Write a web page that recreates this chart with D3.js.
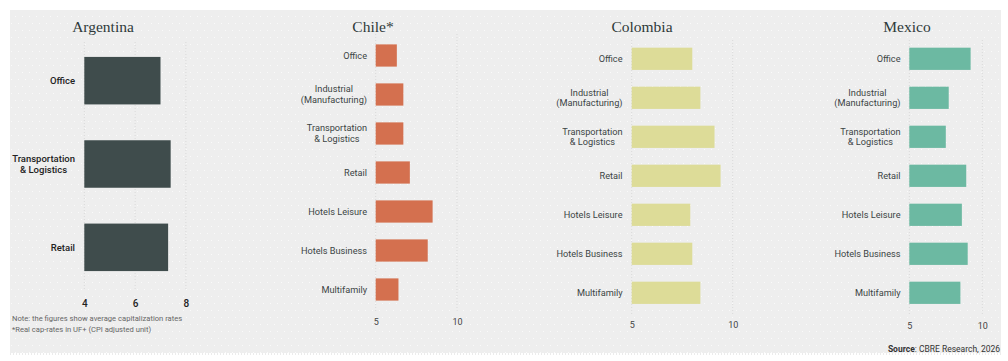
<!DOCTYPE html>
<html>
<head>
<meta charset="utf-8">
<script src="https://cdn.jsdelivr.net/npm/d3@7"></script>
<style>
  html, body { margin: 0; padding: 0; background: #ffffff; }
  svg { display: block; }
</style>
</head>
<body>
<svg id="chart" width="1008" height="361"></svg>
<script>
// ---- Data ----
const argentinaCategories = ["Office", "Transportation\n& Logistics", "Retail"];
const argentinaValues = [7.0, 7.4, 7.3];
const argentinaTicks = [4, 6, 8];

const sectorCategories = ["Office", "Industrial\n(Manufacturing)", "Transportation\n& Logistics", "Retail", "Hotels Leisure", "Hotels Business", "Multifamily"];
const chileValues = [6.3, 6.7, 6.7, 7.1, 8.5, 8.2, 6.4];
const colombiaValues = [8.0, 8.4, 9.1, 9.4, 7.9, 8.0, 8.4];
const mexicoValues = [9.2, 7.7, 7.5, 8.9, 8.6, 9.0, 8.5];
const sectorTicks = [5, 10];

const noteLines = ["Note: the figures show average capitalization rates", "*Real cap-rates in UF+ (CPI adjusted unit)"];

// ---- Layout ----
const svg = d3.select("#chart");
const defs = svg.append("defs");
const pat = defs.append("pattern").attr("id", "dots").attr("patternUnits", "userSpaceOnUse")
  .attr("width", 7).attr("height", 14);
pat.append("rect").attr("width", 7).attr("height", 14).attr("fill", "#eeeeee");
pat.append("rect").attr("x", 1).attr("y", 2).attr("width", 1).attr("height", 1).attr("fill", "#fafafa");
pat.append("rect").attr("x", 4).attr("y", 9).attr("width", 1).attr("height", 1).attr("fill", "#fafafa");

svg.append("rect").attr("x", 10).attr("y", 10).attr("width", 991).attr("height", 343).attr("fill", "url(#dots)");
svg.append("line").attr("x1", 10).attr("x2", 1001).attr("y1", 354).attr("y2", 354)
  .attr("stroke", "#d8d8d8").attr("stroke-dasharray", "1,2");

const panels = [
  { title: "Argentina", titleX: 103, cats: argentinaCategories, vals: argentinaValues, ticks: argentinaTicks,
    domain: [4, 8], xr: [84.3, 185.9], yr: [39, 289], color: "#3f4c4c", tickY: 303, labelRight: 75,
    bold: true, labelSize: 9.5, tickSize: 10, gridTop: 42 },
  { title: "Chile*", titleX: 373, cats: sectorCategories, vals: chileValues, ticks: sectorTicks,
    domain: [5, 10], xr: [375.7, 457], yr: [36, 309], color: "#d4704f", tickY: 322, labelRight: 367,
    bold: false, labelSize: 9.2, tickSize: 9, gridTop: 34 },
  { title: "Colombia", titleX: 642, cats: sectorCategories, vals: colombiaValues, ticks: sectorTicks,
    domain: [5, 10], xr: [631.7, 732.7], yr: [39.3, 312.3], color: "#dddc98", tickY: 325, labelRight: 622.5,
    bold: false, labelSize: 9.2, tickSize: 9, gridTop: 40 },
  { title: "Mexico", titleX: 907, cats: sectorCategories, vals: mexicoValues, ticks: sectorTicks,
    domain: [5, 10], xr: [909.3, 982.3], yr: [39.3, 312.3], color: "#6cb9a2", tickY: 326, labelRight: 900.5,
    bold: false, labelSize: 9.2, tickSize: 9, gridTop: 40 }
];

const sans = "Roboto, 'Open Sans', sans-serif";

panels.forEach(p => {
  const g = svg.append("g");
  const x = d3.scaleLinear().domain(p.domain).range(p.xr);
  const y = d3.scaleBand().domain(p.cats).range(p.yr).paddingInner(0.43).paddingOuter(0.215);

  // title
  g.append("text").attr("x", p.titleX).attr("y", 32).attr("text-anchor", "middle")
    .attr("font-family", "'Liberation Serif', 'DejaVu Serif', serif").attr("font-size", 15.5)
    .attr("fill", "#2f3a3a").text(p.title);

  // gridlines
  g.selectAll(".grid").data(p.ticks).join("line")
    .attr("x1", d => x(d)).attr("x2", d => x(d))
    .attr("y1", p.gridTop).attr("y2", p.yr[1] + 2)
    .attr("stroke", "#d9d9d9").attr("stroke-dasharray", "1,2");

  // bars
  g.selectAll(".bar").data(p.cats).join("rect")
    .attr("x", x(p.domain[0]))
    .attr("y", d => y(d))
    .attr("width", (d, i) => x(p.vals[i]) - x(p.domain[0]))
    .attr("height", y.bandwidth())
    .attr("fill", p.color);

  // axis tick labels
  const axis = d3.axisBottom(x).tickValues(p.ticks).tickFormat(d3.format("d")).tickSize(0).tickPadding(0);
  const ag = g.append("g").attr("transform", `translate(0,${p.tickY})`).call(axis);
  ag.select(".domain").remove();
  ag.selectAll("text").attr("font-family", sans).attr("font-size", p.tickSize)
    .attr("font-weight", p.bold ? 500 : 400).attr("fill", p.bold ? "#222" : "#444")
    .attr("dy", "0.35em").attr("y", 0);

  // category labels
  p.cats.forEach(c => {
    const lines = c.split("\n");
    const cy = y(c) + y.bandwidth() / 2;
    const lh = p.bold ? 11 : 10.7;
    const t = g.append("text").attr("font-family", sans).attr("font-size", p.labelSize)
      .attr("font-weight", p.bold ? 500 : 400).attr("fill", p.bold ? "#222" : "#3c4545");
    if (lines.length === 1) {
      t.attr("x", p.labelRight).attr("y", cy).attr("dy", "0.35em").attr("text-anchor", "end").text(c);
    } else {
      const spans = lines.map((l, k) => t.append("tspan").attr("y", cy + (k - (lines.length - 1) / 2) * lh)
        .attr("dy", "0.35em").text(l));
      const maxW = d3.max(spans, s => s.node().getComputedTextLength());
      spans.forEach(s => s.attr("x", p.labelRight - maxW / 2).attr("text-anchor", "middle"));
    }
  });
});

// notes
svg.append("g").selectAll("text").data(noteLines).join("text")
  .attr("x", 12).attr("y", (d, i) => 321 + i * 11)
  .attr("font-family", sans).attr("font-size", 7.6).attr("fill", "#666").text(d => d);

// source
const src = svg.append("text").attr("x", 1000).attr("y", 352).attr("text-anchor", "end")
  .attr("font-family", sans).attr("font-size", 8.5).attr("fill", "#333");
src.append("tspan").attr("font-weight", 700).text("Source");
src.append("tspan").text(": CBRE Research, 2026");
</script>
</body>
</html>
